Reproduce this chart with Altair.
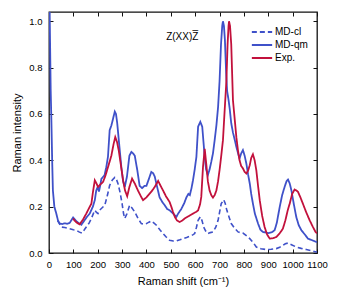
import altair as alt
import pandas as pd

series_names = ["MD-cl", "MD-qm", "Exp."]
series_colors = ["#3f51c9", "#3f51c9", "#c2113c"]
series_dash = [[5, 3], [1, 0], [1, 0]]

x_mdqm = [0, 3, 7, 10, 13, 16, 22, 30, 37, 44, 55, 65, 75, 85, 99, 110, 120, 133, 145, 155,
          167, 180, 188, 194, 200, 205, 210, 215, 228, 235, 242, 249, 256, 263, 270, 275, 280,
          288, 297, 304, 311, 320, 330, 338, 345, 352, 362, 372, 382, 392, 400, 410, 420, 427,
          434, 445, 454, 465, 475, 485, 495, 505, 516, 523, 530, 543, 555, 564, 572, 578, 585,
          591, 598, 605, 612, 621, 629, 634, 639, 645, 652, 659, 666, 673, 680, 687, 694, 700,
          706, 711, 714, 718, 722, 727, 731, 737, 742, 748, 755, 762, 769, 776, 782, 789, 796,
          803, 810, 817, 824, 830, 837, 845, 858, 868, 878, 899, 915, 926, 935, 947, 957, 967,
          975, 981, 988, 995, 1005, 1015, 1025, 1036, 1050, 1063, 1080, 1097, 1100]
y_mdqm = [1.5, 1.02, 0.70, 0.56, 0.40, 0.27, 0.20, 0.17, 0.14, 0.127, 0.125, 0.128, 0.126, 0.13,
          0.153, 0.14, 0.13, 0.122, 0.14, 0.155, 0.17, 0.20, 0.228, 0.27, 0.285, 0.265, 0.29,
          0.32, 0.336, 0.37, 0.415, 0.53, 0.55, 0.58, 0.61, 0.60, 0.56, 0.47, 0.37, 0.31, 0.285,
          0.33, 0.42, 0.436, 0.43, 0.42, 0.36, 0.29, 0.28, 0.29, 0.29, 0.32, 0.35, 0.345, 0.33,
          0.28, 0.24, 0.22, 0.206, 0.19, 0.184, 0.175, 0.163, 0.156, 0.17, 0.19, 0.215, 0.24,
          0.255, 0.25, 0.28, 0.314, 0.36, 0.415, 0.545, 0.566, 0.545, 0.48, 0.415, 0.36, 0.336,
          0.36, 0.393, 0.43, 0.487, 0.55, 0.63, 0.74, 0.90, 0.98, 1.0, 0.98, 0.92, 0.78, 0.70,
          0.66, 0.62, 0.56, 0.52, 0.49, 0.458, 0.43, 0.408, 0.43, 0.444, 0.42, 0.386, 0.34, 0.30,
          0.255, 0.213, 0.17, 0.127, 0.10, 0.091, 0.086, 0.09, 0.098, 0.13, 0.199, 0.25, 0.285,
          0.31, 0.317, 0.30, 0.27, 0.21, 0.155, 0.12, 0.098, 0.08, 0.062, 0.055, 0.048, 0.047]

x_exp = [99, 105, 115, 126, 140, 153, 165, 174, 180, 188, 195, 201, 210, 222, 232, 242, 256, 265,
         272, 279, 286, 295, 304, 312, 321, 330, 341, 352, 365, 377, 386, 400, 413, 424, 434, 448,
         458, 468, 480, 495, 502, 509, 517, 525, 536, 547, 557, 575, 591, 605, 612, 620, 625, 632,
         639, 646, 652, 659, 666, 673, 680, 687, 694, 700, 707, 714, 721, 728, 733, 737, 739, 743,
         748, 755, 762, 769, 776, 782, 789, 796, 803, 810, 817, 824, 830, 837, 844, 851, 858, 865,
         875, 885, 895, 906, 920, 933, 947, 960, 970, 980, 988, 998, 1008, 1015, 1022, 1032, 1042,
         1056, 1070, 1082, 1094, 1100]
y_exp = [0.149, 0.14, 0.13, 0.124, 0.145, 0.17, 0.195, 0.213, 0.26, 0.314, 0.30, 0.285, 0.295,
         0.307, 0.335, 0.37, 0.42, 0.47, 0.50, 0.48, 0.444, 0.38, 0.314, 0.27, 0.245, 0.285, 0.321,
         0.30, 0.27, 0.245, 0.228, 0.24, 0.256, 0.27, 0.285, 0.311, 0.29, 0.27, 0.245, 0.22, 0.20,
         0.177, 0.155, 0.141, 0.134, 0.14, 0.149, 0.16, 0.17, 0.178, 0.184, 0.21, 0.242, 0.37,
         0.45, 0.379, 0.31, 0.27, 0.25, 0.239, 0.25, 0.27, 0.31, 0.357, 0.42, 0.487, 0.616, 0.74,
         0.90, 0.98, 1.0, 0.98, 0.90, 0.66, 0.58, 0.50, 0.44, 0.40, 0.375, 0.365, 0.35, 0.343,
         0.355, 0.379, 0.41, 0.426, 0.40, 0.357, 0.29, 0.228, 0.16, 0.112, 0.08, 0.062, 0.064,
         0.069, 0.085, 0.105, 0.14, 0.185, 0.213, 0.255, 0.274, 0.27, 0.264, 0.24, 0.213, 0.175,
         0.141, 0.115, 0.091, 0.085]

x_mdcl = [35, 51, 65, 85, 100, 112, 125, 135, 145, 153, 165, 174, 182, 188, 195, 201, 208, 215,
          229, 240, 249, 260, 270, 276, 283, 292, 300, 306, 311, 320, 331, 340, 352, 365, 379, 390,
          400, 410, 420, 430, 441, 455, 468, 480, 495, 510, 523, 537, 550, 565, 577, 590, 598, 605,
          612, 621, 628, 635, 643, 652, 662, 673, 684, 694, 700, 707, 717, 723, 730, 741, 748, 760,
          776, 786, 796, 810, 824, 838, 851, 870, 892, 912, 933, 947, 960, 970, 981, 995, 1015,
          1035, 1056, 1075, 1097, 1100]
y_mdcl = [0.14, 0.112, 0.11, 0.105, 0.10, 0.098, 0.09, 0.086, 0.10, 0.112, 0.13, 0.149, 0.17,
          0.184, 0.175, 0.17, 0.185, 0.192, 0.206, 0.25, 0.292, 0.315, 0.326, 0.32, 0.30, 0.26,
          0.213, 0.17, 0.149, 0.17, 0.206, 0.195, 0.177, 0.15, 0.127, 0.125, 0.127, 0.133, 0.138,
          0.13, 0.12, 0.10, 0.084, 0.07, 0.055, 0.052, 0.052, 0.057, 0.062, 0.067, 0.072, 0.078,
          0.084, 0.11, 0.141, 0.156, 0.14, 0.112, 0.095, 0.084, 0.088, 0.091, 0.11, 0.141, 0.175,
          0.213, 0.23, 0.215, 0.184, 0.149, 0.127, 0.11, 0.091, 0.088, 0.086, 0.075, 0.062, 0.045,
          0.026, 0.018, 0.015, 0.016, 0.019, 0.025, 0.033, 0.04, 0.043, 0.036, 0.026, 0.02, 0.015,
          0.01, 0.004, 0.004]

x_ticks = list(range(0, 1101, 100))
y_ticks = [0.0, 0.2, 0.4, 0.6, 0.8, 1.0]
annotation_text = ["Z(XX)Z"]
annotation_bar = ["_"]
annotation_x = [547]
annotation_y = [0.93]

frames = []
for name, xs, ys in [("MD-cl", x_mdcl, y_mdcl), ("MD-qm", x_mdqm, y_mdqm), ("Exp.", x_exp, y_exp)]:
    frames.append(pd.DataFrame({"shift": xs, "intensity": ys, "series": name}))
df = pd.concat(frames, ignore_index=True)
ann = pd.DataFrame({"shift": annotation_x, "intensity": annotation_y,
                    "label": annotation_text, "bar": annotation_bar})

xscale = alt.Scale(domain=[0, 1100], nice=False, zero=False)
yscale = alt.Scale(domain=[0, 1.04], nice=False, zero=False)

x_main = alt.X("shift:Q", scale=xscale,
               axis=alt.Axis(values=x_ticks, format="d", title="Raman shift (cm\u207b\u00b9)",
                             orient="bottom", offset=-4, tickSize=4, domain=False, grid=False,
                             labelFlush=False, labelOverlap=False, labelPadding=6, titlePadding=7))
y_main = alt.Y("intensity:Q", scale=yscale,
               axis=alt.Axis(values=y_ticks, format=".1f", title="Raman intensity", orient="left",
                             offset=-4, tickSize=4, domain=False, grid=False,
                             labelPadding=7, titlePadding=6))
color_enc = alt.Color("series:N", scale=alt.Scale(domain=series_names, range=series_colors),
                      title=None)
dash_enc = alt.StrokeDash("series:N", scale=alt.Scale(domain=series_names, range=series_dash),
                          title=None)

lines = []
for name in series_names:
    lines.append(
        alt.Chart(df).transform_filter(alt.datum.series == name)
        .mark_line(clip=True, strokeWidth=1.8 if name != "MD-cl" else 1.6)
        .encode(x=x_main, y=y_main, color=color_enc, strokeDash=dash_enc)
    )
main = alt.layer(*lines)

x_top = alt.X("shift:Q", scale=xscale,
              axis=alt.Axis(values=x_ticks, orient="top", offset=-4, tickSize=4, labels=False,
                            domain=False, grid=False, title=None))
y_right = alt.Y("intensity:Q", scale=yscale,
                axis=alt.Axis(values=y_ticks, orient="right", offset=-4, tickSize=4, labels=False,
                              domain=False, grid=False, title=None))

ghost = alt.Chart(df).mark_line(opacity=0).encode(x=x_top, y=y_right, detail="series:N")
text = alt.Chart(ann).mark_text(fontSize=10, font="Liberation Sans", color="#000").encode(
    x=x_top, y=y_right, text="label:N")
bar = alt.Chart(ann).mark_text(fontSize=10, font="Liberation Sans", color="#000",
                               dx=13, dy=-11).encode(x=x_top, y=y_right, text="bar:N")
overlay = alt.layer(ghost, text, bar)

chart = alt.layer(main, overlay).resolve_scale(x="independent", y="independent").properties(
    width=268, height=241,
    autosize=alt.AutoSizeParams(type="none"),
    padding={"left": 41, "top": 4, "right": 15, "bottom": 39},
).configure(font="Liberation Sans").configure_view(
    stroke="#111", strokeWidth=1.3
).configure_axis(
    labelFontSize=9.5, titleFontSize=11, labelColor="#000", titleColor="#000",
    tickColor="#111", tickWidth=1, titleFontWeight="normal", labelOverlap=False
).configure_legend(
    orient="none", legendX=205, legendY=12, symbolType="M-1.45,0H1.45", symbolSize=196,
    symbolStrokeWidth=2, labelFontSize=10, labelColor="#000", labelOffset=5, rowPadding=0,
    padding=0
)

chart.save("out.html", embed_options={"renderer": "svg", "actions": False})
